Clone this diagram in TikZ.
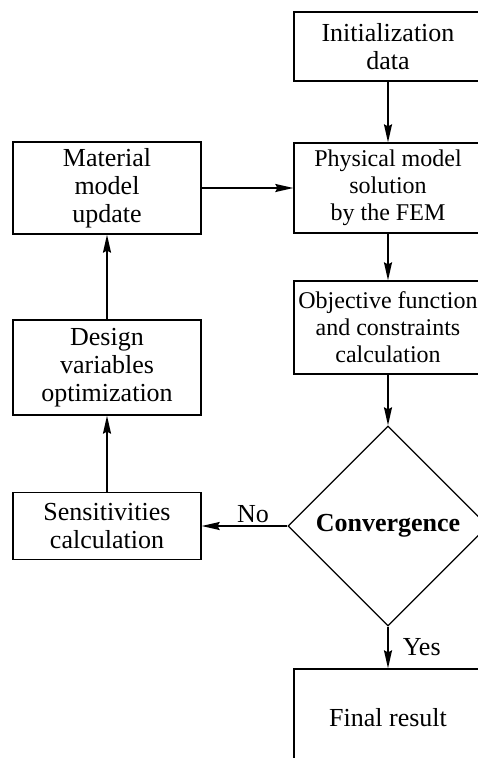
\documentclass[tikz,border=0pt]{standalone}
\usepackage{fontspec}
\setmainfont{Liberation Serif}
\usetikzlibrary{shapes.geometric, arrows.meta}

\begin{document}
\begin{tikzpicture}[x=1pt,y=1pt,->,>={Stealth[length=18pt,width=8pt,inset=2pt]},
                    line width=1.6pt]
  \tikzstyle{block}=[rectangle,draw=black,line width=1.3pt,align=center,
                     minimum width=188pt,inner sep=2pt,font=\fontsize{26}{28}\selectfont]
  \tikzstyle{small block}=[block,font=\fontsize{24}{27}\selectfont]
  \tikzstyle{decision}=[diamond,draw=black,line width=1.3pt,shape aspect=1,
                        minimum size=200pt,inner sep=0pt,
                        font=\fontsize{26}{28}\selectfont\bfseries]
  \tikzstyle{answer}=[font=\fontsize{26}{28}\selectfont,inner sep=2pt]

  \clip[-] (0,0) rectangle (478,-758);

  % right column
  \node[block, minimum height=69pt]       (init)  at (388,-46.5)  {Initialization\\data};
  \node[small block, minimum height=90pt] (phys)  at (388,-188)   {Physical model\\solution\\by the FEM};
  \node[small block, minimum height=93pt] (obj)   at (388,-327.5) {Objective function\\and constraints\\calculation};
  \node[decision]                         (conv)  at (388,-526)   {Convergence};
  \node[block, minimum height=98pt]       (final) at (388,-718)   {Final result};

  % left column
  \node[block, minimum height=92pt] (mat)    at (107,-188)   {Material\\model\\update};
  \node[block, minimum height=95pt] (design) at (107,-367.5) {Design\\variables\\optimization};
  \node[block, minimum height=67pt] (sens)   at (107,-526)   {Sensitivities\\calculation};

  \path (init) edge (phys)
        (phys) edge (obj)
        (obj)  edge (conv)
        (conv) edge node[answer, right, xshift=12pt] {Yes} (final)
               edge node[answer, above, pos=0.4] {No} (sens)
        (sens) edge (design)
        (design) edge (mat)
        (mat)  edge (phys);
\end{tikzpicture}
\end{document}
